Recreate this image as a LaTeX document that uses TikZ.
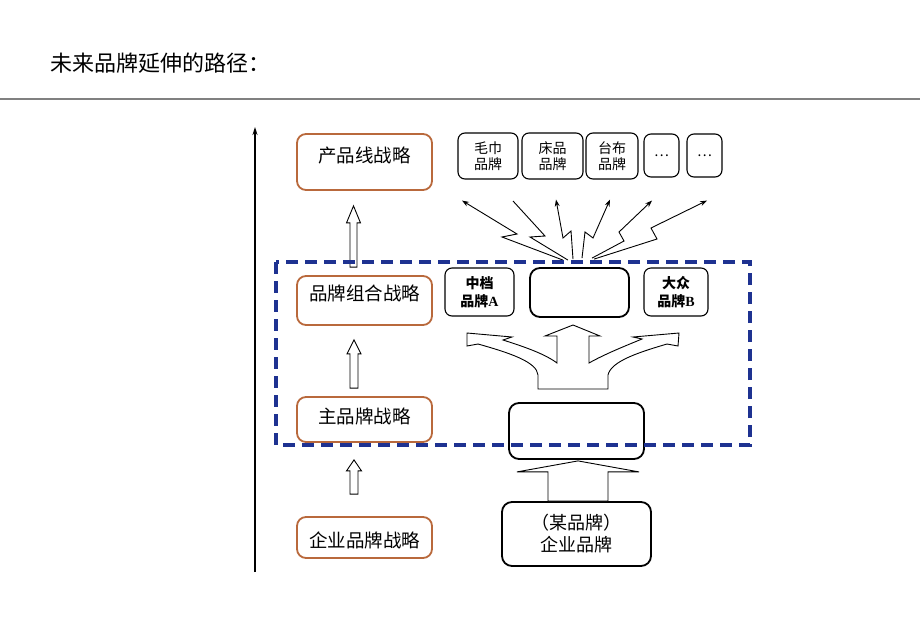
\documentclass[tikz,border=0pt]{standalone}
\usepackage{fontspec}
\setmainfont{Noto Sans CJK SC}
\newfontfamily\lserif{Liberation Serif}
\usetikzlibrary{arrows.meta,calc}
\definecolor{obrown}{RGB}{185,105,60}
\definecolor{dblue}{RGB}{30,50,145}
\definecolor{rulegray}{RGB}{128,128,128}
\newcommand\hollowup[5]{%
  \coordinate (HT) at (#1);
  \coordinate (HBt) at (#2);
  \coordinate (HB) at (HT |- HBt);
  \draw[hollow] (HT) -- ++(#4,#5) -- ++({#3-#4},0) -- ($(HB)+(#3,0)$)
     -- ($(HB)+(-#3,0)$) -- ($(HT)+(-#3,#5)$) -- ++({#3-#4},0) -- cycle;}
\begin{document}
\begin{tikzpicture}[x=1pt,y=-1pt,
  lbox/.style={draw=obrown, line width=1.8pt, rounded corners=9pt, fill=white, minimum width=135pt, inner sep=0pt},
  ltext/.style={font=\fontsize{18.5}{20}\selectfont, inner sep=0pt},
  sbox/.style={draw=black, line width=1.1pt, rounded corners=7pt, inner sep=0pt, align=center, font=\fontsize{14}{16}\selectfont},
  mbox/.style={sbox, font=\fontsize{14}{18.5}\selectfont\bfseries},
  bbox/.style={draw=black, line width=1.8pt, rounded corners=10pt, inner sep=0pt, align=center},
  hollow/.style={draw=black, line width=0.9pt, fill=white, line join=miter},
  bolt/.style={draw=black, line width=0.9pt, line join=miter},
  bolthead/.style={bolt, -{Stealth[length=7pt,width=5pt]}},
]
\useasboundingbox (0,0) rectangle (920,637);

% title and rule
\node[anchor=west, inner sep=0pt, font=\fontsize{22}{24}\selectfont] (title) at (50,63) {未来品牌延伸的路径：};
\coordinate (ruleL) at (0,99);
\coordinate (ruleR) at (920,99);
\draw[rulegray, line width=2pt] (ruleL) -- (ruleR);

% vertical axis
\coordinate (axisB) at (255,572);
\coordinate (axisT) at (255,127);
\draw[line width=1.2pt, -{Stealth[length=8pt,width=5pt]}] (axisB) -- (axisT);

% left column boxes
\node[lbox, minimum height=56pt] (p1) at (364.5,162) {};
\node[ltext] (p1t) at (364.5,155) {产品线战略};
\node[lbox, minimum height=49pt] (p2) at (364.5,300.5) {};
\node[ltext] (p2t) at (364.5,293) {品牌组合战略};
\node[lbox, minimum height=45pt] (p3) at (364.5,419.5) {};
\node[ltext] (p3t) at (364.5,416) {主品牌战略};
\node[lbox, minimum height=41pt] (p4) at (364.5,537.5) {};
\node[ltext] (p4t) at (364.5,540) {企业品牌战略};

% hollow arrows on the left
\hollowup{$(p1.south)+(-11,15)$}{$(p2.north)+(0,-8)$}{3.5}{7}{17}
\hollowup{$(p2.south)+(-10.5,14)$}{$(p3.north)+(0,-8)$}{4}{7}{14}
\hollowup{$(p3.south)+(-10.5,17)$}{$(p4.north)+(0,-22)$}{4}{7.5}{11}

% top row boxes
\node[sbox, minimum width=60pt, minimum height=46pt] (t1) at (488,156) {毛巾\\品牌};
\node[sbox, minimum width=61pt, minimum height=46pt] (t2) at (552.5,156) {床品\\品牌};
\node[sbox, minimum width=52pt, minimum height=46pt] (t3) at (612,156) {台布\\品牌};
\node[sbox, minimum width=35pt, minimum height=43pt] (t4) at (661.5,155.5) {…};
\node[sbox, minimum width=35pt, minimum height=43pt] (t5) at (704.5,155.5) {…};

% second row boxes
\node[mbox, minimum width=69pt, minimum height=48pt] (mA) at (479.5,292) {中档\\品牌{\lserif\bfseries A}};
\node[bbox, minimum width=99pt, minimum height=49pt] (mid) at (579.5,292.5) {};
\node[mbox, minimum width=64pt, minimum height=48pt] (mB) at (676,292) {大众\\品牌{\lserif\bfseries B}};

% main brand box and corporate box
\node[bbox, minimum width=135pt, minimum height=56pt] (main) at (576.5,431) {};
\node[bbox, minimum width=149pt, minimum height=64pt, font=\fontsize{18}{22}\selectfont] (corp) at (576.5,534) {（某品牌）\\企业品牌};

% wide hollow arrow corp -> main
\hollowup{$(main.south)+(1.5,1)$}{corp.north}{30}{61}{11}

% three-way hollow arrow
\draw[hollow] (538,389) -- (538,375) .. controls (537,362) and (510,353) .. (478,344)
  -- (467,346) -- (467,333) -- (512,337) -- (503,340)
  .. controls (525,347) and (545,354) .. (557,363) -- (557,336) -- (545,336)
  -- (573,325) -- (600,336) -- (589,336) -- (589,363)
  .. controls (605,354) and (625,346) .. (642,339) -- (633,337) -- (679,333)
  -- (678,346) -- (667,344) .. controls (640,352) and (611,361) .. (608,375)
  -- (608,389) -- cycle;

% lightning arrows from mid to the product-line brands
\coordinate (s1) at ($(mid.north)+(-16.5,-7)$);
\coordinate (s2) at ($(mid.north)+(-11.5,-7)$);
\coordinate (s3) at ($(mid.north)+(-6.5,-8)$);
\coordinate (s4) at ($(mid.north)+(2.5,-9)$);
\coordinate (s5) at ($(mid.north)+(12.5,-9)$);
\coordinate (s6) at ($(mid.north)+(14.5,-8)$);
\coordinate (e1) at ($(t1.south)+(-26,21)$);
\coordinate (e2) at (513,201);
\coordinate (e3) at ($(t2.south)+(3.5,20)$);
\coordinate (e4) at ($(t3.south)+(-2,20)$);
\coordinate (e5) at ($(t4.south)+(-9.5,23)$);
\coordinate (e6) at ($(t5.south)+(2.5,23)$);
\draw[bolthead] (s1) -- (502,237) -- (517,234) -- (e1);
\draw[bolt] (s2) -- (530,237) -- (545,236) -- (e2);
\draw[bolthead] (s3) -- (571,231) -- (563,238) -- (e3);
\draw[bolthead] (s4) -- (585,232) -- (593,238) -- (e4);
\draw[bolthead] (s5) -- (624,241) -- (619,232) -- (e5);
\draw[bolthead] (s6) -- (657,239) -- (651,228) -- (e6);

% dashed group frame
\coordinate (gTL) at (276,262);
\coordinate (gBR) at (750,445);
\draw[dblue, line width=3.2pt, dash pattern=on 12pt off 7pt] (gTL) rectangle (gBR);
\end{tikzpicture}
\end{document}
